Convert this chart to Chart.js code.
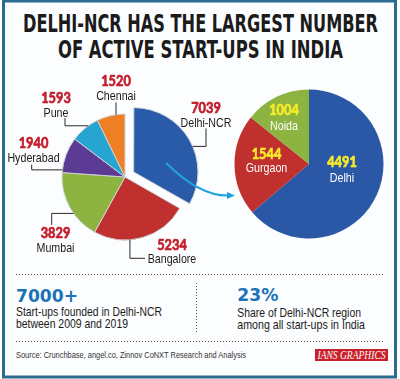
<!DOCTYPE html>
<html><head><meta charset="utf-8">
<script src="https://cdn.jsdelivr.net/npm/chart.js@4.4.0/dist/chart.umd.min.js"></script>
<style>
html,body{margin:0;padding:0;background:#fff;}
#wrap{position:relative;width:400px;height:379px;overflow:hidden;}
#bg{position:absolute;left:0;top:0;}
#cl{position:absolute;left:0;top:52px;width:250px;height:250px;}
#cr{position:absolute;left:229px;top:84px;width:160px;height:160px;}
</style></head><body>
<div id="wrap">
<svg id="bg" width="400" height="379" xmlns="http://www.w3.org/2000/svg">
  <rect x="3.5" y="1" width="392" height="376" fill="#fbfdfe" stroke="#2b6b8f" stroke-width="3"/>
  <text x="200.5" y="31.7" text-anchor="middle" textLength="355" lengthAdjust="spacingAndGlyphs" font-family="DejaVu Sans" font-weight="bold" font-size="25" fill="#1b1b1b">DELHI-NCR HAS THE LARGEST NUMBER</text>
  <text x="200.5" y="58.3" text-anchor="middle" textLength="285" lengthAdjust="spacingAndGlyphs" font-family="DejaVu Sans" font-weight="bold" font-size="25" fill="#1b1b1b">OF ACTIVE START-UPS IN INDIA</text>
  <line x1="16" y1="274.5" x2="385" y2="274.5" stroke="#555" stroke-width="1" stroke-dasharray="1 2"/>
  <line x1="16" y1="341.5" x2="385" y2="341.5" stroke="#555" stroke-width="1" stroke-dasharray="1 2"/>
  <line x1="196.5" y1="283" x2="196.5" y2="332" stroke="#555" stroke-width="1" stroke-dasharray="1 2"/>
  <text x="16" y="301.7" textLength="62" lengthAdjust="spacingAndGlyphs" font-family="DejaVu Sans" font-weight="bold" font-size="18.5" fill="#1a73b8">7000+</text>
  <text x="16" y="315.5" textLength="146" lengthAdjust="spacingAndGlyphs" font-family="Liberation Sans" font-size="13.5" fill="#1b1b1b">Start-ups founded in Delhi-NCR</text>
  <text x="16" y="327.5" textLength="112" lengthAdjust="spacingAndGlyphs" font-family="Liberation Sans" font-size="13.5" fill="#1b1b1b">between 2009 and 2019</text>
  <text x="237.3" y="300.7" textLength="41" lengthAdjust="spacingAndGlyphs" font-family="DejaVu Sans" font-weight="bold" font-size="18.5" fill="#1a73b8">23%</text>
  <text x="237.3" y="317" textLength="123.7" lengthAdjust="spacingAndGlyphs" font-family="Liberation Sans" font-size="13.5" fill="#1b1b1b">Share of Delhi-NCR region</text>
  <text x="237.3" y="329" textLength="127.7" lengthAdjust="spacingAndGlyphs" font-family="Liberation Sans" font-size="13.5" fill="#1b1b1b">among all start-ups in India</text>
  <text x="16" y="357.7" textLength="230" lengthAdjust="spacingAndGlyphs" font-family="Liberation Sans" font-size="9.5" fill="#333">Source: Crunchbase, angel.co, Zinnov CoNXT Research and Analysis</text>
  <rect x="315" y="349" width="73" height="12" fill="#c9202b"/>
  <text x="351.5" y="359" text-anchor="middle" textLength="68" lengthAdjust="spacingAndGlyphs" font-family="Liberation Serif" font-style="italic" font-size="11.5" fill="#fff">IANS GRAPHICS</text>
</svg>
<canvas id="cl" width="250" height="250"></canvas>
<canvas id="cr" width="160" height="160"></canvas>
</div>
<script>
// ---- data ----
const regions = ['Delhi-NCR', 'Bangalore', 'Mumbai', 'Hyderabad', 'Pune', 'Chennai'];
const startups = [7039, 5234, 3829, 1940, 1593, 1520];
const ncrAreas = ['Delhi', 'Gurgaon', 'Noida'];
const ncrStartups = [4491, 1544, 1004];

// ---- styles ----
const regionColors = ['#2a5ba8', '#c0302e', '#8db340', '#5c3b95', '#26a4d2', '#ef7f24'];
const ncrColors = ['#2a58a6', '#c0302e', '#8db340'];
const explodeOffset = 40;
const numFont = 'bold 14.5px Lato';
const numScale = 0.88;
const nameFont = '13px "Liberation Sans"';
const nameScale = 0.82;

// label layout, px relative to pie centre
const leftLabelLayout = [
  {x: 81, numY: -64.3, nameY: -50.3, lead: [81, -48.5], angle: 66.7, mode: 'h'},
  {x: 47, numY: 73, nameY: 86, lead: [20, 81.3], angle: 175.5, mode: 'v'},
  {x: -69.5, numY: 61, nameY: 74.7, lead: [-73.3, 48], angle: 234.7, mode: 'h'},
  {x: -91.5, numY: -29, nameY: -15.5, lead: [-93.3, -12.5], angle: 276.5, mode: 'h'},
  {x: -69, numY: -74.3, nameY: -60.3, lead: [-60, -59], angle: 324.4, mode: 'h'},
  {x: -9, numY: -91, nameY: -77, lead: [-9, -74.5], angle: 351.7, mode: 'h'}
];
const rightLabelLayout = [
  {x: 33, numY: 2.7, nameY: 17.7},
  {x: -42.5, numY: -5, nameY: 7.5},
  {x: -25, numY: -49, nameY: -34}
];
const arrowPath = {s: [41, -14.3], c: [75, 19.9], e: [109, 18.5]};

function drawText(ctx, text, x, y, color, font, sx, stroke) {
  ctx.save();
  ctx.font = font;
  ctx.fillStyle = color;
  ctx.textAlign = 'center';
  ctx.textBaseline = 'alphabetic';
  ctx.translate(x, y);
  ctx.scale(sx, 1);
  ctx.fillText(text, 0, 0);
  if (stroke) {
    ctx.strokeStyle = color;
    ctx.lineWidth = stroke;
    ctx.lineJoin = 'round';
    ctx.strokeText(text, 0, 0);
  }
  ctx.restore();
}
const drawNum = (ctx, t, x, y, c) => drawText(ctx, t, x, y, c, numFont, numScale, 0.7);
const drawName = (ctx, t, x, y, c) => drawText(ctx, t, x, y, c, nameFont, nameScale, 0);

const leftLabels = {
  id: 'leftLabels',
  afterDraw(chart) {
    const ctx = chart.ctx;
    const meta = chart.getDatasetMeta(0);
    const cx = meta.data[0].x, cy = meta.data[0].y;
    // arrow
    ctx.save();
    ctx.strokeStyle = '#1fa3dc';
    ctx.lineWidth = 2;
    const S = arrowPath.s, C = arrowPath.c, E = arrowPath.e;
    ctx.beginPath();
    ctx.moveTo(cx + S[0], cy + S[1]);
    ctx.quadraticCurveTo(cx + C[0], cy + C[1], cx + E[0] - 4, cy + E[1]);
    ctx.stroke();
    ctx.fillStyle = '#1fa3dc';
    ctx.beginPath();
    ctx.moveTo(cx + E[0] + 1, cy + E[1]);
    ctx.lineTo(cx + E[0] - 7, cy + E[1] - 3.5);
    ctx.lineTo(cx + E[0] - 7, cy + E[1] + 3.5);
    ctx.closePath();
    ctx.fill();
    ctx.restore();

    meta.data.forEach((arc, i) => {
      const L = leftLabelLayout[i];
      const p = arc.getProps(['x', 'y', 'startAngle', 'endAngle', 'outerRadius', 'circumference']);
      const off = (arc.options.offset || 0) / 4;
      const half = (p.startAngle + p.endAngle) / 2;
      const fix = 1 - Math.sin(Math.min(Math.PI, p.circumference || 0));
      const d = off + off * fix;
      const ax0 = p.x + Math.cos(half) * d, ay0 = p.y + Math.sin(half) * d;
      const a = L.angle * Math.PI / 180;
      const ax = ax0 + Math.sin(a) * p.outerRadius;
      const ay = ay0 - Math.cos(a) * p.outerRadius;
      const lx = cx + L.lead[0], ly = cy + L.lead[1];
      ctx.save();
      ctx.strokeStyle = '#2a2a2a';
      ctx.lineWidth = 1;
      ctx.beginPath();
      ctx.moveTo(lx, ly);
      if (L.mode === 'h') ctx.lineTo(lx, ay); else ctx.lineTo(ax, ly);
      ctx.lineTo(ax, ay);
      ctx.stroke();
      ctx.restore();
      drawNum(ctx, String(chart.data.datasets[0].data[i]), cx + L.x, cy + L.numY, '#c41e2c');
      drawName(ctx, chart.data.labels[i], cx + L.x, cy + L.nameY, '#1b1b1b');
    });
  }
};

const rightLabels = {
  id: 'rightLabels',
  afterDraw(chart) {
    const ctx = chart.ctx;
    const meta = chart.getDatasetMeta(0);
    const cx = meta.data[0].x, cy = meta.data[0].y;
    meta.data.forEach((arc, i) => {
      const L = rightLabelLayout[i];
      drawNum(ctx, String(chart.data.datasets[0].data[i]), cx + L.x, cy + L.numY, '#f6ea2c');
      drawName(ctx, chart.data.labels[i], cx + L.x, cy + L.nameY, '#ffffff');
    });
  }
};

const common = {
  responsive: false,
  animation: false,
  devicePixelRatio: 1,
  events: [],
  layout: {padding: 0},
  plugins: {legend: {display: false}, tooltip: {enabled: false}, title: {display: false}}
};

new Chart(document.getElementById('cl'), {
  type: 'pie',
  data: {
    labels: regions,
    datasets: [{
      data: startups,
      backgroundColor: regionColors,
      borderColor: '#cfd3d6',
      borderWidth: 1,
      offset: (c) => c.dataIndex === 0 ? explodeOffset : 0
    }]
  },
  options: Object.assign({}, common, {radius: 63}),
  plugins: [leftLabels]
});

new Chart(document.getElementById('cr'), {
  type: 'pie',
  data: {
    labels: ncrAreas,
    datasets: [{
      data: ncrStartups,
      backgroundColor: ncrColors,
      borderWidth: 0
    }]
  },
  options: Object.assign({}, common, {radius: 74.5}),
  plugins: [rightLabels]
});
</script>
</body></html>
